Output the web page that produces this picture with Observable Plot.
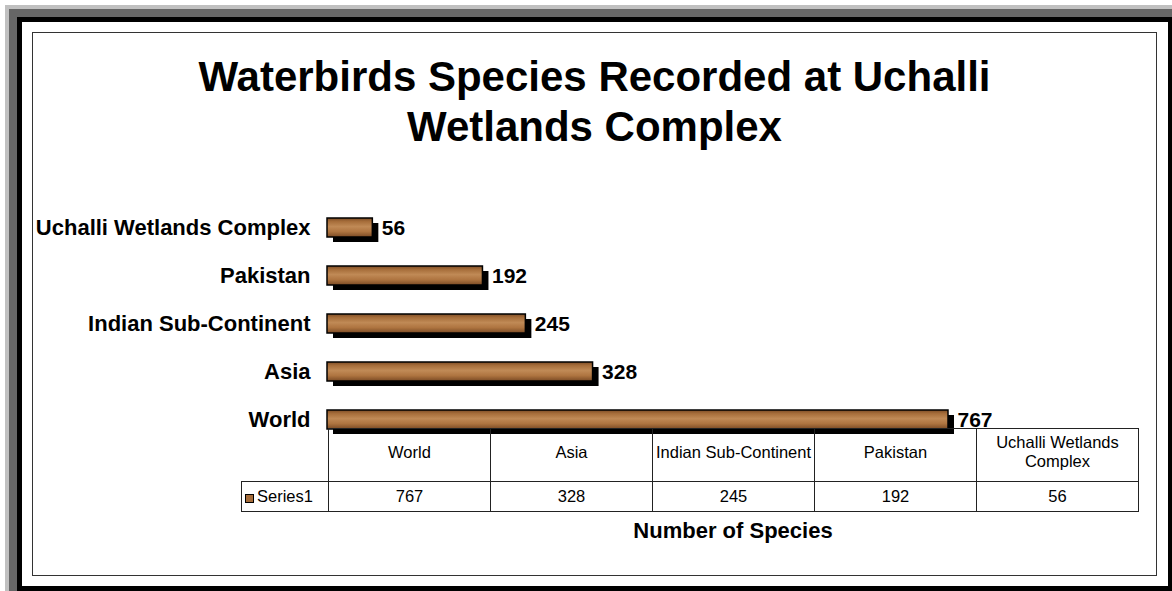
<!DOCTYPE html>
<html>
<head>
<meta charset="utf-8">
<script src="https://cdn.jsdelivr.net/npm/d3@7"></script>
<script src="https://cdn.jsdelivr.net/npm/@observablehq/plot@0.6"></script>
<style>
  html, body { margin: 0; padding: 0; background: #fff; }
  #wrap { position: relative; width: 1172px; height: 591px; overflow: hidden; font-family: "Liberation Sans", Arial, sans-serif; }
  .layer { position: absolute; }
  #title { position: absolute; left: 32px; width: 1125px; top: 52px; text-align: center; font-weight: bold; font-size: 42px; line-height: 50px; color: #000; }
  #xtitle { position: absolute; left: 328px; width: 810px; top: 520px; text-align: center; font-weight: bold; font-size: 22px; line-height: 21px; color: #000; }
  #tbl { position: absolute; left: 241px; top: 428px; border-collapse: collapse; table-layout: fixed; font-size: 16.5px; color: #000; }
  #tbl td { border: 1px solid #222; text-align: center; vertical-align: middle; padding: 0; line-height: 19px; }
  #tbl td.blank { border: none; }
  #tbl tr.head td { height: 46px; padding-bottom: 6px; }
  #tbl tr.vals td { height: 29px; }
  #tbl td.leg { text-align: left; padding-left: 3px; white-space: nowrap; }
  .sw { display: inline-block; width: 7px; height: 7px; background: #a56c3a; border: 1.5px solid #000; margin-right: 3px; vertical-align: -1px; }
  #chart { position: absolute; left: 0; top: 0; }
</style>
</head>
<body>
<div id="wrap">
  <div class="layer" style="left:5px;top:5px;right:0;bottom:0;background:#c0c0c0"></div>
  <div class="layer" style="left:9px;top:9px;right:0;bottom:0;background:#666"></div>
  <div class="layer" style="left:17px;top:17px;right:0;bottom:0;background:#000"></div>
  <div class="layer" style="left:22px;top:22px;width:1146px;height:564px;background:#fff"></div>
  <div class="layer" style="left:32px;top:32px;width:1125px;height:544px;border:1px solid #333;box-sizing:border-box"></div>
  <div id="title">Waterbirds Species Recorded at Uchalli<br>Wetlands Complex</div>
  <div id="chart"></div>
  <table id="tbl"></table>
  <div id="xtitle">Number of Species</div>
</div>
<script>
// Data
const categories = ["World", "Asia", "Indian Sub-Continent", "Pakistan", "Uchalli Wetlands Complex"];
const values = [767, 328, 245, 192, 56];
const seriesName = "Series1";
const axisTitle = "Number of Species";

const data = categories.map((c, i) => ({category: c, value: values[i]}));
const yOrder = categories.slice().reverse(); // top to bottom

const chart = Plot.plot({
  width: 1172,
  height: 591,
  marginLeft: 327,
  marginRight: 224,
  marginTop: 0,
  marginBottom: 0,
  style: {background: "transparent", overflow: "visible", fontFamily: "'Liberation Sans', Arial, sans-serif", color: "#000"},
  x: {domain: [0, d3.max(values)], axis: null},
  y: {type: "band", domain: yOrder, range: [202.2, 444.3], paddingInner: 0.597, paddingOuter: 0.3, axis: null},
  marks: [
    Plot.barX(data, {x: "value", y: "category", fill: "#000", dx: 6, dy: 5}),
    Plot.barX(data, {x: "value", y: "category", fill: "url(#woodGrad)", stroke: "#000", strokeWidth: 1.5}),
    Plot.text(data, {y: "category", text: "category", frameAnchor: "left", textAnchor: "end", dx: -17, fontSize: 22, fontWeight: "bold", fill: "#000"}),
    Plot.text(data, {x: "value", y: "category", text: d => String(d.value), textAnchor: "start", dx: 9, fontSize: 21, fontWeight: "bold", fill: "#000"})
  ]
});

// gradient definition for the wood-like bar fill
const ns = "http://www.w3.org/2000/svg";
const defs = document.createElementNS(ns, "defs");
const grad = document.createElementNS(ns, "linearGradient");
grad.setAttribute("id", "woodGrad");
grad.setAttribute("x1", "0"); grad.setAttribute("y1", "0");
grad.setAttribute("x2", "0"); grad.setAttribute("y2", "1");
[["0%", "#7d4d26"], ["18%", "#a66d3a"], ["45%", "#c08a56"], ["72%", "#ae7440"], ["100%", "#7a4a24"]].forEach(([o, c]) => {
  const s = document.createElementNS(ns, "stop");
  s.setAttribute("offset", o); s.setAttribute("stop-color", c);
  grad.appendChild(s);
});
defs.appendChild(grad);
chart.insertBefore(defs, chart.firstChild);
document.getElementById("chart").appendChild(chart);

// data table under the chart
const tbl = document.getElementById("tbl");
const colg = document.createElement("colgroup");
const c0 = document.createElement("col"); c0.style.width = "87px"; colg.appendChild(c0);
categories.forEach(() => { const c = document.createElement("col"); c.style.width = "162px"; colg.appendChild(c); });
tbl.appendChild(colg);
const tr1 = document.createElement("tr"); tr1.className = "head";
const blank = document.createElement("td"); blank.className = "blank"; tr1.appendChild(blank);
categories.forEach(c => { const td = document.createElement("td"); td.textContent = c; tr1.appendChild(td); });
tbl.appendChild(tr1);
const tr2 = document.createElement("tr"); tr2.className = "vals";
const leg = document.createElement("td"); leg.className = "leg";
const sw = document.createElement("span"); sw.className = "sw"; leg.appendChild(sw);
leg.appendChild(document.createTextNode(seriesName));
tr2.appendChild(leg);
values.forEach(v => { const td = document.createElement("td"); td.textContent = String(v); tr2.appendChild(td); });
tbl.appendChild(tr2);
document.getElementById("xtitle").textContent = axisTitle;
</script>
</body>
</html>
